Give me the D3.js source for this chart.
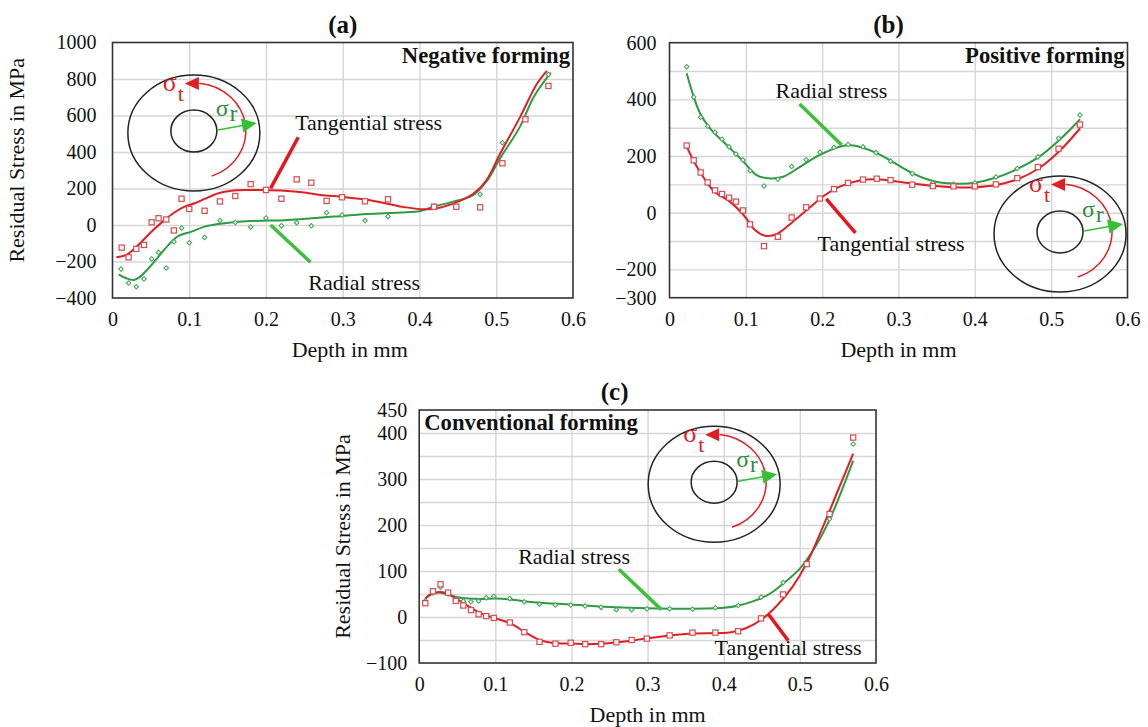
<!DOCTYPE html>
<html lang="en">
<head>
<meta charset="UTF-8">
<script src="https://d3js.org/d3.v7.min.js"></script>
<title>Residual stress vs depth</title>
<style>
  body { margin: 0; background: #fff; }
</style>
</head>
<body>
<svg id="chart" width="1148" height="727"></svg>
<script>
// ---------- data: [depth mm, stress MPa] ----------
// (a) negative forming
const aTanPts = [[0.012,-124],[0.021,-177],[0.031,-131],[0.041,-109],[0.051,15],[0.060,37],[0.070,30],[0.080,-30],[0.090,144],[0.100,88],[0.120,78],[0.140,129],[0.160,159],[0.180,224],[0.200,192],[0.220,144],[0.240,250],[0.259,232],[0.279,132],[0.299,152],[0.329,130],[0.359,141],[0.419,100],[0.448,100],[0.479,97],[0.508,338],[0.538,579],[0.568,762]];
const aRadPts = [[0.011,-241],[0.021,-318],[0.031,-338],[0.041,-296],[0.051,-186],[0.060,-150],[0.070,-236],[0.080,-92],[0.090,-17],[0.100,-97],[0.120,-68],[0.140,25],[0.160,14],[0.180,-11],[0.200,38],[0.220,-4],[0.240,13],[0.259,-4],[0.279,67],[0.299,55],[0.329,24],[0.359,46],[0.419,104],[0.479,168],[0.508,451],[0.538,583],[0.568,825]];
const aTanCurve = [[0.005,-177],[0.018,-164],[0.029,-128],[0.038,-91],[0.051,-36],[0.068,28],[0.081,70],[0.094,101],[0.107,119],[0.12,143],[0.138,174],[0.155,188],[0.177,192],[0.198,192],[0.224,188],[0.25,178],[0.271,165],[0.302,153],[0.332,138],[0.36,115],[0.38,98],[0.406,86],[0.418,88],[0.444,117],[0.47,171],[0.487,244],[0.505,390],[0.531,591],[0.553,774],[0.566,845]];
const aRadCurve = [[0.008,-270],[0.018,-292],[0.028,-301],[0.036,-283],[0.047,-237],[0.06,-173],[0.073,-109],[0.086,-60],[0.103,-36],[0.12,-9],[0.138,6],[0.16,17],[0.181,22],[0.203,24],[0.224,26],[0.244,31],[0.288,46],[0.332,60],[0.375,68],[0.401,77],[0.418,100],[0.444,128],[0.47,164],[0.487,237],[0.505,365],[0.531,539],[0.549,703],[0.571,835]];

// (b) positive forming
const bTanPts = [[0.0225,237],[0.0317,185],[0.0408,142],[0.050,107],[0.0596,79],[0.0688,66],[0.078,53],[0.087,39],[0.0963,8],[0.1055,-41],[0.1238,-118],[0.142,-85],[0.160,-17],[0.179,19],[0.197,50],[0.2155,83],[0.234,105],[0.2535,117],[0.2715,120],[0.2896,115],[0.318,99],[0.345,94],[0.372,93],[0.400,93],[0.4276,100],[0.4556,122],[0.4826,161],[0.5097,226],[0.5377,311]];
const bRadPts = [[0.0225,515],[0.0317,408],[0.0408,337],[0.050,305],[0.0596,284],[0.0688,259],[0.078,233],[0.087,207],[0.0963,186],[0.1055,148],[0.1238,94],[0.142,118],[0.160,163],[0.179,187],[0.197,213],[0.2155,230],[0.234,241],[0.2535,233],[0.2706,212],[0.2896,182],[0.318,138],[0.345,105],[0.372,100],[0.400,105],[0.4276,126],[0.4556,156],[0.4826,197],[0.5097,263],[0.5377,345]];
const bTanCurve = [[0.0225,233],[0.031,186],[0.044,127],[0.059,74],[0.079,39],[0.097,-8],[0.112,-61],[0.125,-81],[0.14,-76],[0.162,-31],[0.184,19],[0.201,57],[0.223,92],[0.249,114],[0.27,118],[0.29,113],[0.318,103],[0.345,95],[0.372,90],[0.4,90],[0.428,98],[0.456,118],[0.483,155],[0.51,215],[0.538,298]];
const bRadCurve = [[0.0225,492],[0.031,415],[0.04,351],[0.053,298],[0.075,239],[0.097,180],[0.114,133],[0.132,121],[0.149,127],[0.171,162],[0.197,204],[0.223,233],[0.241,237],[0.27,212],[0.29,183],[0.318,140],[0.345,112],[0.372,103],[0.4,106],[0.428,124],[0.456,155],[0.483,195],[0.51,255],[0.538,330]];

// (c) conventional forming
const cTanPts = [[0.008,30],[0.018,56],[0.028,71],[0.038,53],[0.048,35],[0.058,25],[0.068,15],[0.078,6],[0.088,2],[0.098,-2],[0.119,-12],[0.138,-33],[0.158,-54],[0.179,-58],[0.199,-56],[0.218,-59],[0.239,-59],[0.259,-55],[0.279,-50],[0.299,-47],[0.329,-40],[0.359,-34],[0.389,-34],[0.419,-31],[0.449,-3],[0.478,49],[0.509,115],[0.539,224],[0.57,390]];
const cRadPts = [[0.008,35],[0.018,52],[0.028,65],[0.038,50],[0.048,38],[0.058,35],[0.068,33],[0.078,35],[0.088,42],[0.098,45],[0.119,40],[0.138,33],[0.158,28],[0.179,26],[0.199,26],[0.218,24],[0.239,21],[0.259,16],[0.279,16],[0.299,18],[0.329,18],[0.359,17],[0.389,20],[0.419,25],[0.449,43],[0.478,75],[0.509,117],[0.539,213],[0.57,376]];
const cTanCurve = [[0.008,40],[0.016,50],[0.025,54],[0.035,52],[0.045,44],[0.058,30],[0.07,18],[0.085,5],[0.1,-3],[0.12,-14],[0.14,-34],[0.16,-51],[0.18,-57],[0.2,-58],[0.22,-59],[0.24,-58],[0.26,-55],[0.28,-51],[0.3,-46],[0.33,-40],[0.36,-36],[0.39,-35],[0.41,-33],[0.43,-24],[0.45,-5],[0.47,25],[0.49,65],[0.51,120],[0.53,195],[0.55,275],[0.57,355]];
const cRadCurve = [[0.008,40],[0.016,50],[0.025,53],[0.035,50],[0.05,43],[0.065,40],[0.08,39],[0.1,40],[0.12,38],[0.15,32],[0.2,27],[0.25,22],[0.3,19],[0.35,18],[0.4,20],[0.42,25],[0.44,35],[0.46,50],[0.48,75],[0.5,105],[0.52,152],[0.54,215],[0.57,340]];

// ticks
const xTickVals = [0, 0.1, 0.2, 0.3, 0.4, 0.5, 0.6];
const aYTicks = [-400, -200, 0, 200, 400, 600, 800, 1000];
const bYTicks = [-300, -200, 0, 200, 400, 600];
const bYGrid = [-200, -100, 0, 100, 200, 300, 400, 500];
const cYTicks = [-100, 0, 100, 200, 300, 400, 450];
const cYGrid = [-50, 0, 50, 100, 150, 200, 250, 300, 350, 400];

const panelTitles = ["(a)", "(b)", "(c)"];
const formingNames = ["Negative forming", "Positive forming", "Conventional forming"];

// ---------- drawing ----------
const SERIF = "'Liberation Serif', 'Times New Roman', Times, 'DejaVu Serif', serif";
const svg = d3.select("#chart").attr("font-family", SERIF);
const RED = "#df1f26", GREEN = "#2e9a42";
const RED_PT = "#d94a4f", GREEN_PT = "#4aa75a";
const RED_PTR = "#e8141c", GREEN_PTR = "#3cc03c";

function txt(g, x, y, s, size) {
  return g.append("text").attr("x", x).attr("y", y).attr("font-size", size)
    .attr("font-family", SERIF).attr("fill", "#111").text(s);
}

function drawInset(g, cx, cy) {
  const ig = g.append("g").attr("transform", `translate(${cx},${cy})`);
  ig.append("ellipse").attr("rx", 66).attr("ry", 58).attr("cy", 2)
    .attr("fill", "none").attr("stroke", "#222").attr("stroke-width", 1.5);
  ig.append("ellipse").attr("rx", 23).attr("ry", 21)
    .attr("fill", "none").attr("stroke", "#222").attr("stroke-width", 1.5);
  // tangential arc
  const rx = 52, ry = 48;
  const t0 = -84 * Math.PI / 180, t1 = 70 * Math.PI / 180;
  ig.append("path")
    .attr("d", `M${rx*Math.cos(t0)},${ry*Math.sin(t0)} A${rx},${ry} 0 0 1 ${rx*Math.cos(t1)},${ry*Math.sin(t1)}`)
    .attr("fill", "none").attr("stroke", RED).attr("stroke-width", 1.5);
  ig.append("path").attr("d", "M-9,-47.5 L5,-54 L5,-41 Z").attr("fill", RED);
  // radial arrow
  ig.append("line").attr("x1", 24).attr("y1", -1).attr("x2", 49).attr("y2", -5.5)
    .attr("stroke", "#35c035").attr("stroke-width", 1.6);
  ig.append("path").attr("d", "M63,-8 L47,-12.5 L49.5,1.5 Z").attr("fill", "#35c035");
  // labels
  const st = ig.append("text").attr("x", -31).attr("y", -40).attr("font-size", 26)
    .attr("font-family", SERIF).attr("fill", RED);
  st.append("tspan").text("σ");
  st.append("tspan").attr("dx", 1).attr("dy", 10).attr("font-size", 22).text("t");
  const sr = ig.append("text").attr("x", 22).attr("y", -15).attr("font-size", 24)
    .attr("font-family", SERIF).attr("fill", "#2e8b3a");
  sr.append("tspan").text("σ");
  sr.append("tspan").attr("dx", 1).attr("dy", 5).attr("font-size", 23).text("r");
}

function styleAxisText(a) {
  a.attr("font-family", SERIF).attr("font-size", 20);
  a.selectAll("text").attr("fill", "#111");
}

function drawPanel(p) {
  const x = d3.scaleLinear().domain([0, 0.6]).range([p.left, p.right]);
  const y = d3.scaleLinear().domain(p.yDomain).range([p.bottom, p.top]);
  const g = svg.append("g");
  const w = p.right - p.left, h = p.bottom - p.top;

  // grid
  g.append("g").attr("transform", `translate(0,${p.bottom})`)
    .call(d3.axisBottom(x).tickValues(xTickVals.slice(1, -1)).tickSize(-h).tickFormat(""))
    .call(a => a.select(".domain").remove())
    .selectAll("line").attr("stroke", "#d6d6d6").attr("stroke-width", 1.4);
  g.append("g").attr("transform", `translate(${p.left},0)`)
    .call(d3.axisLeft(y).tickValues(p.grid).tickSize(-w).tickFormat(""))
    .call(a => a.select(".domain").remove())
    .selectAll("line").attr("stroke", "#d6d6d6").attr("stroke-width", 1.4);

  // tick labels
  const xa = g.append("g").attr("transform", `translate(0,${p.bottom})`)
    .call(d3.axisBottom(x).tickValues(xTickVals).tickSize(0).tickPadding(p.xPad).tickFormat(d3.format("~g")));
  xa.select(".domain").remove();
  styleAxisText(xa);
  const ya = g.append("g").attr("transform", `translate(${p.left},0)`)
    .call(d3.axisLeft(y).tickValues(p.yTicks).tickSize(0).tickPadding(p.yPad).tickFormat(d3.format("d")));
  ya.select(".domain").remove();
  styleAxisText(ya);

  // frame
  g.append("rect").attr("x", p.left).attr("y", p.top).attr("width", w).attr("height", h)
    .attr("fill", "none").attr("stroke", "#333").attr("stroke-width", 1.6);

  // inset
  drawInset(g, x(p.inset[0]), y(p.inset[1]));

  // curves
  const line = d3.line().x(d => x(d[0])).y(d => y(d[1])).curve(d3.curveCatmullRom.alpha(0.5));
  g.append("path").datum(p.radCurve).attr("d", line).attr("fill", "none").attr("stroke", GREEN).attr("stroke-width", 2);
  g.append("path").datum(p.tanCurve).attr("d", line).attr("fill", "none").attr("stroke", RED).attr("stroke-width", 2);

  // points
  g.append("g").selectAll("rect").data(p.radPts).join("rect")
    .attr("x", -1.6).attr("y", -1.6).attr("width", 3.2).attr("height", 3.2)
    .attr("transform", d => `translate(${x(d[0])},${y(d[1])}) rotate(45)`)
    .attr("fill", "#fff").attr("stroke", GREEN_PT).attr("stroke-width", 1.1);
  g.append("g").selectAll("rect").data(p.tanPts).join("rect")
    .attr("x", d => x(d[0]) - 2.6).attr("y", d => y(d[1]) - 2.6).attr("width", 5.2).attr("height", 5.2)
    .attr("fill", "#fff").attr("stroke", RED_PT).attr("stroke-width", 1.2);

  // pointer lines and labels
  g.append("line").attr("x1", x(p.tanPtr[0])).attr("y1", y(p.tanPtr[1])).attr("x2", x(p.tanPtr[2])).attr("y2", y(p.tanPtr[3]))
    .attr("stroke", RED_PTR).attr("stroke-width", 3.5);
  g.append("line").attr("x1", x(p.radPtr[0])).attr("y1", y(p.radPtr[1])).attr("x2", x(p.radPtr[2])).attr("y2", y(p.radPtr[3]))
    .attr("stroke", GREEN_PTR).attr("stroke-width", 3.5);
  txt(g, x(p.tanLab[0]), y(p.tanLab[1]), "Tangential stress", 22);
  txt(g, x(p.radLab[0]), y(p.radLab[1]), "Radial stress", 22);

  // forming name
  txt(g, p.nameAnchor === "end" ? p.right - 3 : p.left + 5, p.top + 20, p.name, 22.7)
    .attr("text-anchor", p.nameAnchor).attr("font-weight", "bold");

  // titles
  txt(g, (p.left + p.right) / 2 + p.titleDx, p.top - 10, p.title, 25)
    .attr("text-anchor", "middle").attr("font-weight", "bold");
  txt(g, (p.left + p.right) / 2 + p.xLabelDx, p.bottom + 59, "Depth in mm", 22).attr("text-anchor", "middle");
  if (p.yLabelX) {
    txt(g, 0, 0, "Residual Stress in MPa", 22)
      .attr("transform", `translate(${p.yLabelX},${(p.top + p.bottom) / 2 + p.yLabelDy}) rotate(-90)`)
      .attr("text-anchor", "middle");
  }
}

drawPanel({
  left: 112.5, right: 573, top: 42.5, bottom: 298, yDomain: [-400, 1000],
  yTicks: aYTicks, grid: aYTicks.slice(1, -1), xPad: 14, yPad: 16,
  tanPts: aTanPts, radPts: aRadPts, tanCurve: aTanCurve, radCurve: aRadCurve,
  inset: [0.106, 515],
  tanPtr: [0.242, 481, 0.206, 201], radPtr: [0.206, 0, 0.258, -204],
  tanLab: [0.238, 521], radLab: [0.255, -356],
  name: formingNames[0], nameAnchor: "end", title: panelTitles[0], titleDx: 0,
  xLabelDx: 7, yLabelX: 24, yLabelDy: -10
});
drawPanel({
  left: 669.5, right: 1127.5, top: 42.7, bottom: 297.7, yDomain: [-300, 600],
  yTicks: bYTicks, grid: bYGrid, xPad: 14, yPad: 13,
  tanPts: bTanPts, radPts: bRadPts, tanCurve: bTanCurve, radCurve: bRadCurve,
  inset: [0.5116, -68],
  tanPtr: [0.2053, 49, 0.2436, -71], radPtr: [0.1704, 384, 0.2255, 239],
  tanLab: [0.194, -134], radLab: [0.139, 405],
  name: formingNames[1], nameAnchor: "end", title: panelTitles[1], titleDx: -10,
  xLabelDx: 0, yLabelX: null, yLabelDy: 0
});
drawPanel({
  left: 419.2, right: 876, top: 410, bottom: 663, yDomain: [-100, 450],
  yTicks: cYTicks, grid: cYGrid, xPad: 14, yPad: 12,
  tanPts: cTanPts, radPts: cRadPts, tanCurve: cTanCurve, radCurve: cRadCurve,
  inset: [0.3874, 293],
  tanPtr: [0.4583, 7, 0.4846, -51], radPtr: [0.2622, 104, 0.3181, 16],
  tanLab: [0.388, -83], radLab: [0.13, 116],
  name: formingNames[2], nameAnchor: "start", title: panelTitles[2], titleDx: -33,
  xLabelDx: 0, yLabelX: 350, yLabelDy: 0
});
</script>
</body>
</html>
